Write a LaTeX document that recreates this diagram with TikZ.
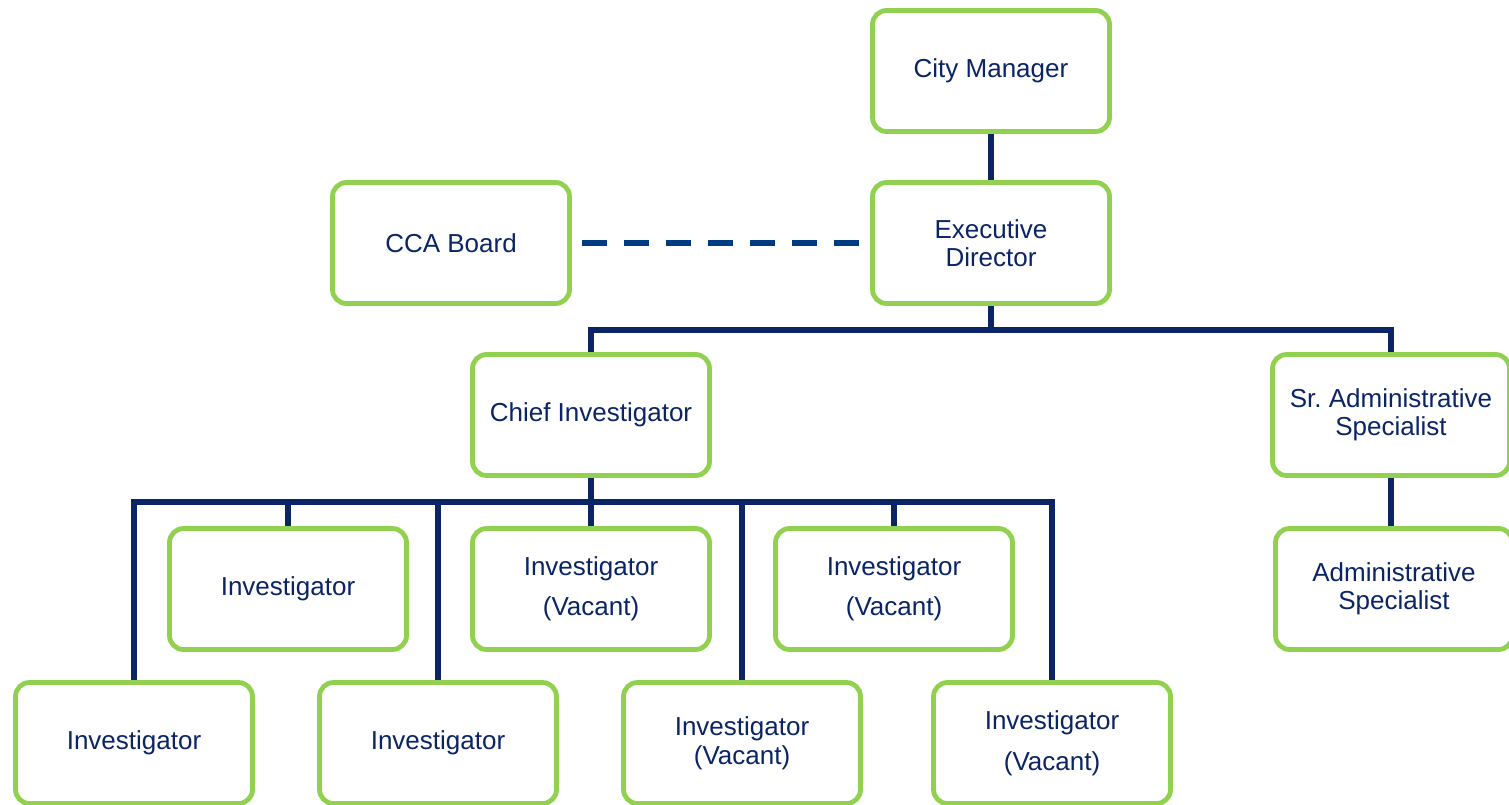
\documentclass[tikz,border=0pt]{standalone}
\usepackage{fontspec}
\setmainfont{Liberation Sans}
\definecolor{orgnavy}{HTML}{0A2466}
\definecolor{dashnavy}{HTML}{003A80}
\definecolor{orggreen}{HTML}{92D050}
\begin{document}
\begin{tikzpicture}[x=0.5pt,y=-0.5pt,
  every node/.style={font=\fontsize{13pt}{14pt}\selectfont,text=orgnavy},
  box/.style={draw=orggreen,line width=2.4pt,rounded corners=7pt,fill=white,
    minimum width=118.5pt,minimum height=60.5pt,align=center,inner sep=2pt},
  link/.style={draw=orgnavy,line width=2.8pt},
  dashlink/.style={draw=dashnavy,line width=3pt,dash pattern=on 12.5pt off 8.5pt}]
\clip (0,0) rectangle (1509,804);
\node[box] (cm) at (991,71) {City Manager};
\node[box] (ed) at (991,243) {Executive\\Director};
\node[box] (cca) at (451,243) {CCA Board};
\node[box] (chief) at (591,415) {Chief Investigator};
\node[box] (sra) at (1391,415) {Sr.\ Administrative\\Specialist};
\node[box] (adm) at (1394,589) {Administrative\\Specialist};
% investigators under the chief
\foreach \nm/\px/\py/\txt in {inva/288/589/{Investigator},
    invb/591/589/{Investigator\\[6pt](Vacant)},
    invc/894/589/{Investigator\\[6pt](Vacant)},
    invd/134/743/{Investigator},
    inve/438/743/{Investigator},
    invf/742/743/{Investigator\\[0.5pt](Vacant)},
    invg/1052/743/{Investigator\\[6.5pt](Vacant)}} {
  \node[box] (\nm) at (\px,\py) {\txt};
}
\draw[link] (cm) -- (ed);
\draw[dashlink] ([xshift=5pt]cca.east) -- ([xshift=-5pt]ed.west);
\draw[link] (ed.south) -- ++(0,24) coordinate (topbus);
\draw[link] (chief.north) |- (topbus) -| (sra.north);
\draw[link] (sra.south) -- (sra.south |- adm.north);
\draw[link] (chief.south) -- ++(0,24) coordinate (invbus);
\foreach \nm in {inva,invb,invc,invd,inve,invf,invg}
  \draw[link] (invbus) -| (\nm.north);
\end{tikzpicture}
\end{document}
